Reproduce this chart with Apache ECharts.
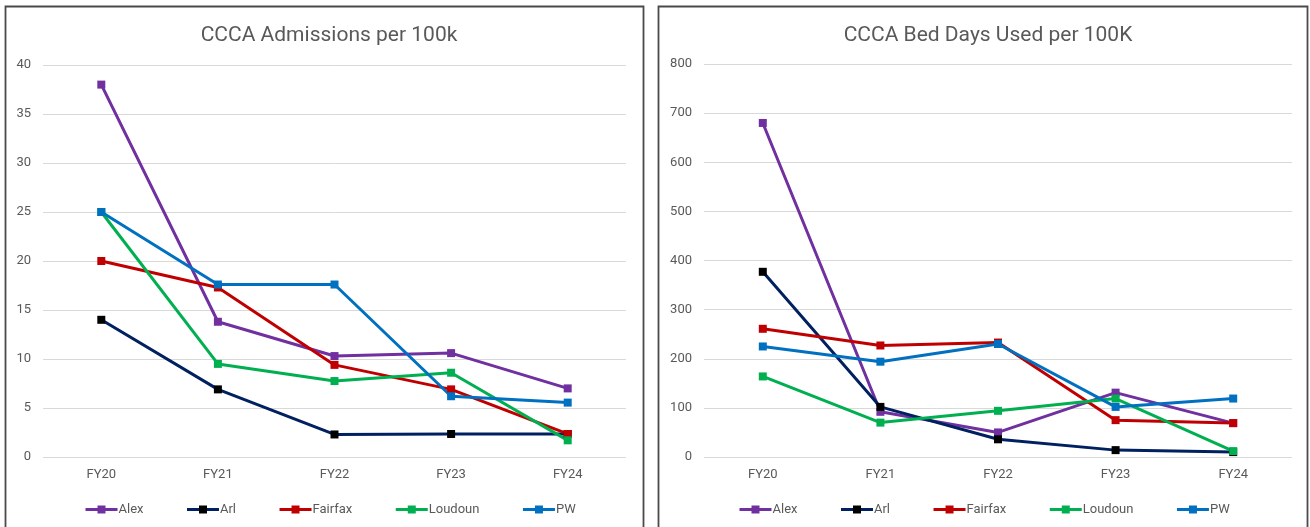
<!DOCTYPE html>
<html>
<head>
<meta charset="utf-8">
<script src="https://cdn.jsdelivr.net/npm/echarts@6/dist/echarts.min.js"></script>
<style>
html,body{margin:0;padding:0;background:#fff;}
#chart{width:1310px;height:527px;}
</style>
</head>
<body>
<div id="chart"></div>
<script>
const categories = ['FY20','FY21','FY22','FY23','FY24'];
const seriesNames = ['Alex','Arl','Fairfax','Loudoun','PW'];

// CCCA Admissions per 100k
const admAlex    = [38.0, 13.8, 10.3, 10.6, 7.0];
const admArl     = [14.0, 6.9, 2.3, 2.35, 2.35];
const admFairfax = [20.0, 17.3, 9.4, 6.9, 2.35];
const admLoudoun = [25.0, 9.5, 7.75, 8.6, 1.7];
const admPW      = [25.0, 17.6, 17.6, 6.2, 5.55];

// CCCA Bed Days Used per 100K
const bedAlex    = [680, 92, 50, 131, 69];
const bedArl     = [377, 102, 36, 14, 10];
const bedFairfax = [261, 227, 233, 75, 69];
const bedLoudoun = [164, 70, 94, 119, 12];
const bedPW      = [225, 194, 230, 102, 119];

const admTicks = [0, 40, 5];
const bedTicks = [0, 800, 100];

const lineColors = ['#7030A0', '#002060', '#C00000', '#00B050', '#0070C0'];
const markColors = ['#7030A0', '#000000', '#C00000', '#00B050', '#0070C0'];

const admData = [admAlex, admArl, admFairfax, admLoudoun, admPW];
const bedData = [bedAlex, bedArl, bedFairfax, bedLoudoun, bedPW];

const FONT = 'Roboto';
const txt = '#595959';

function mkSeries(data, idx) {
  return seriesNames.map((n, i) => ({
    name: n,
    type: 'line',
    xAxisIndex: idx,
    yAxisIndex: idx,
    data: data[i],
    symbol: 'rect',
    symbolSize: 8,
    lineStyle: { color: lineColors[i], width: 3 },
    itemStyle: { color: markColors[i], borderColor: markColors[i], borderWidth: 0 },
    emphasis: { disabled: true },
    animation: false
  }));
}

function xAx(gi) {
  return {
    type: 'category', gridIndex: gi, data: categories, boundaryGap: true,
    axisLine: { show: false }, axisTick: { show: false },
    axisLabel: { color: txt, fontFamily: FONT, fontSize: 13, margin: 11 }
  };
}
function yAx(gi, t) {
  return {
    type: 'value', gridIndex: gi, min: t[0], max: t[1], interval: t[2],
    axisLine: { show: false }, axisTick: { show: false },
    axisLabel: { color: txt, fontFamily: FONT, fontSize: 13, margin: 12 },
    splitLine: { lineStyle: { color: '#D9D9D9', width: 1 } }
  };
}
function legend(left) {
  return {
    left: left, top: 498, itemWidth: 32, itemHeight: 10, itemGap: 42,
    data: seriesNames,
    lineStyle: { width: 3 },
    textStyle: { color: txt, fontFamily: FONT, fontSize: 13, padding: [0,0,0,-4] },
    selectedMode: false
  };
}

const chart = echarts.init(document.getElementById('chart'), null, { renderer: 'canvas' });
chart.setOption({
  backgroundColor: '#ffffff',
  animation: false,
  title: [
    { text: 'CCCA Admissions per 100k', left: 324, top: 20, textAlign: 'center',
      textStyle: { color: txt, fontFamily: FONT, fontSize: 21, fontWeight: 'normal' } },
    { text: 'CCCA Bed Days Used per 100K', left: 983, top: 20, textAlign: 'center',
      textStyle: { color: txt, fontFamily: FONT, fontSize: 21, fontWeight: 'normal' } }
  ],
  grid: [
    { left: 43, top: 65, width: 583, height: 392, containLabel: false },
    { left: 704, top: 64, width: 588, height: 393, containLabel: false }
  ],
  xAxis: [xAx(0), xAx(1)],
  yAxis: [yAx(0, admTicks), yAx(1, bedTicks)],
  legend: [legend(79), legend(733)],
  series: mkSeries(admData, 0).concat(mkSeries(bedData, 1)),
  graphic: [
    { type: 'rect', shape: { x: 5.5, y: 6.5, width: 638, height: 540 },
      style: { fill: 'none', stroke: '#4a4a4a', lineWidth: 1.8 }, silent: true, z: 100 },
    { type: 'rect', shape: { x: 658.5, y: 6.5, width: 649, height: 540 },
      style: { fill: 'none', stroke: '#4a4a4a', lineWidth: 1.8 }, silent: true, z: 100 }
  ]
});
</script>
</body>
</html>
